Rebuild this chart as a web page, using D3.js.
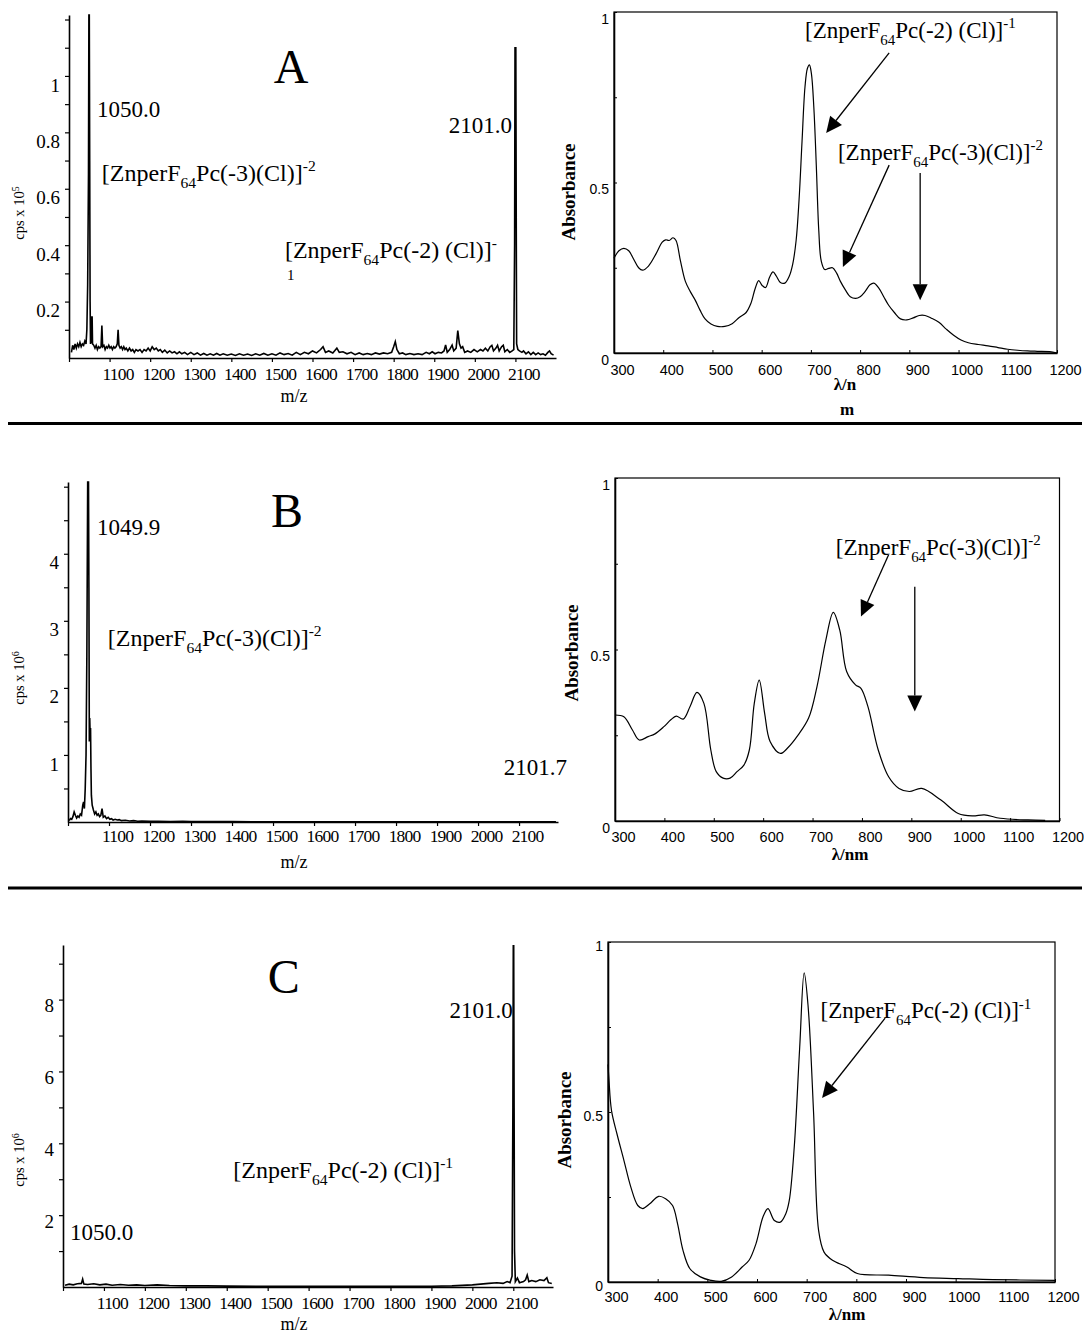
<!DOCTYPE html>
<html><head><meta charset="utf-8">
<script src="https://cdn.jsdelivr.net/npm/d3@7"></script>
<style>body{margin:0;background:#fff}svg{display:block}</style>
</head><body>
<script>
// ---------------- DATA ----------------
const msXTicks = [1000,1100,1200,1300,1400,1500,1600,1700,1800,1900,2000,2100];
const msXLabels = [1100,1200,1300,1400,1500,1600,1700,1800,1900,2000,2100];
const msAYTicks = [0.1,0.2,0.3,0.4,0.5,0.6,0.7,0.8,0.9,1,1.1,1.2];
const msAYLabels = [0.2,0.4,0.6,0.8,1];
const msBYTicks = [0.5,1,1.5,2,2.5,3,3.5,4,4.5,5];
const msBYLabels = [1,2,3,4];
const msCYTicks = [1,2,3,4,5,6,7,8,9];
const msCYLabels = [2,4,6,8];
const uvXTicks = [300,400,500,600,700,800,900,1000,1100,1200];
const uvYTicks = [0,0.25,0.5,0.75,1];
const uvYLabels = [0,0.5,1];

// mass spectrum A: [m/z, cps x 10^5]
const msA = [[1006,0.02],[1009,0.045],[1012,0.03],[1015,0.05],[1018,0.035],[1021,0.05],[1024,0.04],[1027,0.055],[1030,0.04],[1033,0.05],[1036,0.045],[1039,0.06],[1042,0.05],[1044,0.1],[1046,0.26],[1048,0.65],[1049,1.22],[1050,1.22],[1051,0.7],[1052,0.2],[1053,0.05],[1055,0.06],[1056,0.145],[1057,0.145],[1058,0.05],[1061,0.045],[1064,0.035],[1067,0.045],[1070,0.03],[1073,0.04],[1076,0.035],[1079,0.04],[1081,0.115],[1083,0.04],[1086,0.045],[1089,0.03],[1092,0.04],[1095,0.035],[1098,0.045],[1101,0.035],[1104,0.04],[1107,0.03],[1110,0.04],[1113,0.035],[1116,0.04],[1119,0.05],[1121,0.1],[1123,0.045],[1126,0.035],[1129,0.04],[1132,0.03],[1135,0.04],[1138,0.03],[1141,0.035],[1145,0.025],[1149,0.035],[1153,0.025],[1157,0.03],[1161,0.02],[1165,0.03],[1170,0.025],[1175,0.03],[1180,0.02],[1185,0.03],[1190,0.025],[1195,0.035],[1200,0.025],[1205,0.04],[1210,0.03],[1215,0.035],[1220,0.025],[1225,0.03],[1230,0.02],[1236,0.028],[1242,0.018],[1248,0.025],[1254,0.018],[1260,0.022],[1266,0.015],[1272,0.022],[1278,0.015],[1285,0.02],[1292,0.012],[1300,0.02],[1308,0.012],[1316,0.018],[1324,0.01],[1332,0.016],[1340,0.01],[1348,0.015],[1356,0.01],[1364,0.016],[1372,0.01],[1380,0.015],[1390,0.01],[1400,0.014],[1410,0.009],[1420,0.015],[1430,0.01],[1440,0.014],[1450,0.009],[1460,0.015],[1470,0.01],[1480,0.016],[1490,0.01],[1500,0.015],[1510,0.01],[1520,0.018],[1530,0.012],[1540,0.016],[1550,0.01],[1560,0.02],[1570,0.012],[1580,0.02],[1590,0.015],[1600,0.025],[1610,0.018],[1620,0.03],[1626,0.04],[1632,0.02],[1640,0.025],[1650,0.018],[1660,0.035],[1666,0.02],[1675,0.022],[1685,0.015],[1695,0.02],[1705,0.012],[1715,0.018],[1725,0.012],[1735,0.016],[1745,0.012],[1755,0.018],[1765,0.014],[1775,0.018],[1785,0.015],[1795,0.02],[1800,0.04],[1804,0.058],[1808,0.03],[1814,0.015],[1822,0.018],[1830,0.012],[1840,0.016],[1850,0.012],[1860,0.015],[1870,0.012],[1880,0.02],[1888,0.015],[1895,0.022],[1902,0.015],[1910,0.02],[1918,0.018],[1924,0.025],[1928,0.046],[1932,0.02],[1938,0.03],[1944,0.046],[1948,0.025],[1954,0.035],[1958,0.097],[1962,0.05],[1966,0.035],[1970,0.04],[1975,0.02],[1982,0.025],[1990,0.02],[1998,0.03],[2006,0.022],[2014,0.03],[2020,0.025],[2026,0.035],[2032,0.025],[2038,0.04],[2042,0.045],[2046,0.025],[2052,0.035],[2056,0.045],[2060,0.025],[2066,0.04],[2070,0.045],[2074,0.022],[2080,0.03],[2086,0.02],[2092,0.025],[2096,0.03],[2098,0.4],[2099,1.1],[2100,1.1],[2101,1.1],[2102,0.5],[2103,0.05],[2106,0.03],[2110,0.025],[2116,0.02],[2120,0.025],[2126,0.015],[2132,0.022],[2138,0.012],[2144,0.02],[2150,0.012],[2156,0.018],[2162,0.012],[2168,0.015],[2174,0.01],[2180,0.02],[2184,0.025],[2188,0.015],[2194,0.01]];

// mass spectrum B: [m/z, cps x 10^6]
const msB = [[1003,0.02],[1006,0.05],[1009,0.04],[1012,0.08],[1015,0.15],[1018,0.1],[1021,0.06],[1024,0.09],[1027,0.07],[1030,0.12],[1033,0.1],[1036,0.25],[1038,0.3],[1040,0.2],[1042,0.5],[1044,1.0],[1046,2.5],[1048,5.1],[1049,5.1],[1050,5.1],[1051,3.5],[1052,1.2],[1053,1.55],[1054,1.3],[1055,1.4],[1056,0.8],[1057,0.4],[1059,0.25],[1062,0.18],[1065,0.12],[1068,0.15],[1071,0.1],[1074,0.12],[1077,0.08],[1080,0.1],[1083,0.2],[1086,0.07],[1090,0.09],[1094,0.05],[1098,0.07],[1102,0.04],[1106,0.05],[1110,0.03],[1115,0.04],[1120,0.03],[1125,0.035],[1130,0.02],[1140,0.025],[1150,0.015],[1160,0.02],[1170,0.012],[1180,0.015],[1200,0.01],[1220,0.012],[1250,0.008],[1280,0.01],[1300,0.005],[1350,0.006],[1400,0.005],[1450,0.003],[1600,0.003],[1800,0.003],[2000,0.003],[2190,0.003]];

// mass spectrum C: [m/z, cps x 10^6]
const msC = [[1005,0.05],[1015,0.08],[1025,0.06],[1035,0.09],[1045,0.1],[1048,0.22],[1051,0.08],[1060,0.07],[1075,0.09],[1090,0.06],[1105,0.08],[1120,0.05],[1140,0.07],[1160,0.05],[1180,0.06],[1200,0.04],[1230,0.06],[1260,0.04],[1300,0.03],[1350,0.03],[1400,0.025],[1500,0.02],[1600,0.02],[1700,0.02],[1800,0.02],[1900,0.02],[1950,0.03],[2000,0.06],[2020,0.08],[2040,0.1],[2060,0.12],[2075,0.1],[2085,0.15],[2092,0.12],[2097,0.3],[2099,5.0],[2100,9.5],[2101,9.5],[2102,5.0],[2103,1.0],[2105,0.15],[2110,0.25],[2115,0.12],[2125,0.15],[2130,0.2],[2134,0.33],[2138,0.15],[2145,0.18],[2155,0.15],[2165,0.2],[2175,0.18],[2182,0.26],[2186,0.12],[2194,0.1]];

// UV-vis spectra: [nm, absorbance]
const uvA = [[300,0.278],[310,0.300],[320,0.307],[330,0.300],[340,0.275],[350,0.250],[358,0.243],[370,0.255],[385,0.29],[398,0.325],[405,0.332],[412,0.330],[420,0.338],[426,0.33],[435,0.27],[445,0.21],[455,0.18],[465,0.155],[475,0.125],[485,0.1],[497,0.085],[510,0.078],[525,0.078],[540,0.086],[555,0.105],[568,0.118],[578,0.145],[587,0.19],[594,0.212],[601,0.198],[608,0.192],[616,0.222],[623,0.238],[630,0.225],[638,0.207],[647,0.205],[656,0.225],[663,0.26],[670,0.33],[676,0.45],[682,0.62],[688,0.78],[693,0.835],[697,0.845],[701,0.82],[706,0.72],[711,0.55],[716,0.36],[721,0.27],[728,0.245],[736,0.248],[744,0.25],[752,0.235],[760,0.21],[770,0.185],[780,0.165],[791,0.16],[800,0.165],[810,0.18],[820,0.2],[828,0.205],[838,0.19],[848,0.165],[858,0.14],[870,0.118],[882,0.1],[895,0.097],[908,0.103],[920,0.11],[932,0.11],[945,0.102],[960,0.09],[975,0.07],[990,0.052],[1005,0.038],[1020,0.03],[1040,0.025],[1060,0.021],[1080,0.016],[1100,0.011],[1120,0.008],[1140,0.006],[1160,0.005],[1185,0.004],[1200,0.0]];
const uvB = [[300,0.309],[318,0.304],[335,0.266],[349,0.236],[367,0.246],[381,0.254],[399,0.275],[413,0.295],[424,0.306],[438,0.297],[452,0.334],[466,0.375],[480,0.343],[494,0.207],[505,0.144],[519,0.125],[533,0.125],[547,0.144],[561,0.163],[572,0.207],[582,0.343],[592,0.411],[603,0.314],[614,0.232],[635,0.197],[649,0.212],[671,0.251],[692,0.300],[709,0.392],[727,0.528],[742,0.608],[755,0.557],[769,0.436],[787,0.397],[798,0.387],[812,0.334],[833,0.207],[854,0.129],[875,0.095],[896,0.086],[921,0.095],[960,0.061],[995,0.022],[1024,0.015],[1048,0.018],[1080,0.008],[1136,0.003],[1171,0.002]];
const uvC = [[300,0.64],[302,0.593],[307,0.505],[318,0.436],[332,0.358],[346,0.279],[360,0.225],[370,0.216],[384,0.230],[402,0.252],[416,0.245],[430,0.225],[440,0.172],[451,0.093],[465,0.039],[486,0.015],[507,0.005],[528,0.002],[549,0.015],[570,0.044],[584,0.064],[598,0.113],[612,0.191],[622,0.216],[635,0.181],[647,0.176],[658,0.201],[665,0.240],[675,0.397],[686,0.691],[695,0.909],[703,0.809],[714,0.495],[724,0.152],[735,0.088],[752,0.064],[781,0.044],[802,0.025],[865,0.020],[935,0.013],[1005,0.010],[1075,0.007],[1200,0.005]];

// ion labels: [text, level] (level -1 subscript, 1 superscript)
const ionMono = [["[ZnperF",0],["64",-1],["Pc(-2) (Cl)]",0],["-1",1]];
const ionDi = [["[ZnperF",0],["64",-1],["Pc(-3)(Cl)]",0],["-2",1]];
const ionMonoCut = [["[ZnperF",0],["64",-1],["Pc(-2) (Cl)]",0],["-",1]];

// ---------------- DRAWING ----------------
const SERIF = "'Liberation Serif','Times New Roman',Times,serif";
const SANS = "'Liberation Sans',Arial,Helvetica,sans-serif";
const svg = d3.select('body').append('svg').attr('width',1084).attr('height',1336);
svg.append('rect').attr('width',1084).attr('height',1336).attr('fill','#fff');

function chem(g, x, y, parts, fs){
  const t = g.append('text').attr('x',x).attr('y',y).attr('font-size',fs).attr('font-family',SERIF).attr('fill','#000');
  let cur = 0;
  parts.forEach(([s,l])=>{
    const target = l===-1 ? fs*0.3 : (l===1 ? -fs*0.42 : 0);
    t.append('tspan').attr('dy', target-cur).attr('font-size', l ? fs*0.65 : fs).text(s);
    cur = target;
  });
}
function arrow(g,x1,y1,x2,y2,head,hw){
  const dx=x2-x1, dy=y2-y1, L=Math.hypot(dx,dy), ux=dx/L, uy=dy/L;
  const bx=x2-ux*head, by=y2-uy*head;
  g.append('line').attr('x1',x1).attr('y1',y1).attr('x2',bx).attr('y2',by).attr('stroke','#000').attr('stroke-width',1.3);
  g.append('path').attr('d',`M${x2},${y2}L${bx-uy*hw},${by+ux*hw}L${bx+uy*hw},${by-ux*hw}Z`).attr('fill','#000');
}
function notes(g,x,y,list){
  list.forEach(n=>{
    if(n.kind==='chem') chem(g,x(n.at[0]),y(n.at[1]),n.parts,n.size);
    else if(n.kind==='arrow') arrow(g,x(n.from[0]),y(n.from[1]),x(n.to[0]),y(n.to[1]),16,7.5);
    else g.append('text').attr('x',x(n.at[0])).attr('y',y(n.at[1])).attr('font-family',SERIF)
        .attr('font-size',n.size).attr('text-anchor',n.anchor||'start').attr('fill','#000').text(n.text);
  });
}

function drawMS(c){
  const x = d3.scaleLinear().domain(c.xDomain).range(c.xRange);
  const y = d3.scaleLinear().domain(c.yDomain).range(c.yRange);
  const g = svg.append('g');
  const xa = g.append('g').attr('transform',`translate(0,${c.yRange[0]})`)
    .call(d3.axisBottom(x).tickValues(msXTicks).tickSizeInner(4).tickSizeOuter(0)
      .tickFormat(d=>msXLabels.includes(d)?String(d):''));
  xa.select('.domain').attr('stroke-width',1.6);
  xa.selectAll('.tick line').attr('stroke-width',1.2);
  xa.selectAll('text').attr('font-family',SERIF).attr('font-size',17.5).attr('letter-spacing',-0.8)
    .attr('dy',0).attr('y',c.xLabelY).attr('dx',8).attr('fill','#000');
  const ya = g.append('g').attr('transform',`translate(${c.xRange[0]},0)`)
    .call(d3.axisLeft(y).tickValues(c.yTicks).tickSizeInner(4).tickSizeOuter(0)
      .tickFormat(d=>c.yLabels.includes(d)?String(d):''));
  ya.select('.domain').attr('stroke-width',1.6);
  ya.selectAll('.tick line').attr('stroke-width',1.2);
  ya.selectAll('text').attr('font-family',SERIF).attr('font-size',19).attr('x',-9)
    .attr('transform',`translate(0,${c.yLabelShift})`).attr('fill','#000');
  g.append('path').datum(c.data).attr('fill','none').attr('stroke','#000').attr('stroke-width',1.6)
    .attr('d',d3.line().x(d=>x(d[0])).y(d=>y(Math.min(d[1],c.yDomain[1]))));
  const yt = g.append('text').attr('transform',`translate(${c.yTitle[0]},${c.yTitle[1]}) rotate(-90)`)
    .attr('text-anchor','middle').attr('font-family',SERIF).attr('font-size',14.5).attr('fill','#000');
  yt.append('tspan').text('cps x 10');
  yt.append('tspan').attr('dy',-5).attr('font-size',10).text(c.exp);
  g.append('text').attr('x',c.xTitle[0]).attr('y',c.xTitle[1]).attr('text-anchor','middle')
    .attr('font-family',SERIF).attr('font-size',18).attr('fill','#000').text('m/z');
  notes(g,x,y,c.notes);
}

function drawUV(c){
  const x = d3.scaleLinear().domain([300,1200]).range(c.xRange);
  const y = d3.scaleLinear().domain([0,1]).range(c.yRange);
  const g = svg.append('g');
  g.append('rect').attr('x',c.xRange[0]).attr('y',c.yRange[1]).attr('width',c.xRange[1]-c.xRange[0])
    .attr('height',c.yRange[0]-c.yRange[1]).attr('fill','none').attr('stroke','#000').attr('stroke-width',1.2);
  const xa = g.append('g').attr('transform',`translate(0,${c.yRange[0]})`)
    .call(d3.axisBottom(x).tickValues(uvXTicks).tickSizeInner(-3).tickSizeOuter(0).tickFormat(d=>String(d)));
  xa.select('.domain').attr('stroke-width',1.4);
  xa.selectAll('text').attr('font-family',SANS).attr('font-size',14.5).attr('dy',0).attr('y',c.xLabelY)
    .attr('dx',8).attr('fill','#000');
  const ya = g.append('g').attr('transform',`translate(${c.xRange[0]},0)`)
    .call(d3.axisLeft(y).tickValues(uvYTicks).tickSizeInner(-3).tickSizeOuter(0)
      .tickFormat(d=>uvYLabels.includes(d)?String(d):''));
  ya.select('.domain').attr('stroke-width',1.6);
  ya.selectAll('text').attr('font-family',SANS).attr('font-size',14).attr('x',-5)
    .attr('transform',`translate(0,${c.yLabelShift})`).attr('fill','#000');
  g.append('path').datum(c.data).attr('fill','none').attr('stroke','#000').attr('stroke-width',1.2)
    .attr('d',d3.line().curve(d3.curveCatmullRom.alpha(0.5)).x(d=>x(d[0])).y(d=>y(d[1])));
  g.append('text').attr('transform',`translate(${c.yTitle[0]},${c.yTitle[1]}) rotate(-90)`)
    .attr('text-anchor','middle').attr('font-family',SERIF).attr('font-weight','bold').attr('font-size',19)
    .attr('fill','#000').text('Absorbance');
  c.xTitle.forEach(t=>g.append('text').attr('x',t[0]).attr('y',t[1]).attr('text-anchor','middle')
    .attr('font-family',SERIF).attr('font-weight','bold').attr('font-size',17).attr('fill','#000').text(t[2]));
  notes(g,x,y,c.notes);
}

drawMS({data:msA, xDomain:[1000,2200], xRange:[69,556], yDomain:[0,1.216], yRange:[358,15],
  yTicks:msAYTicks, yLabels:msAYLabels, yLabelShift:9, xLabelY:22, exp:'5', yTitle:[24,213], xTitle:[294,402],
  notes:[{kind:'text',text:'A',at:[1547,0.975],size:48,anchor:'middle'},
    {kind:'text',text:'1050.0',at:[1069,0.855],size:23},
    {kind:'chem',parts:ionDi,at:[1081,0.628],size:24},
    {kind:'text',text:'2101.0',at:[1936,0.798],size:23},
    {kind:'chem',parts:ionMonoCut,at:[1532,0.355],size:24},
    {kind:'text',text:'1',at:[1537,0.275],size:15}]});
drawMS({data:msB, xDomain:[1000,2195], xRange:[68,558], yDomain:[0,5.07], yRange:[822,482],
  yTicks:msBYTicks, yLabels:msBYLabels, yLabelShift:9, xLabelY:20, exp:'6', yTitle:[24,678], xTitle:[294,868],
  notes:[{kind:'text',text:'B',at:[1534,4.40],size:48,anchor:'middle'},
    {kind:'text',text:'1049.9',at:[1071,4.28],size:23},
    {kind:'chem',parts:ionDi,at:[1097,2.62],size:24},
    {kind:'text',text:'2101.7',at:[2063,0.70],size:23}]});
drawMS({data:msC, xDomain:[1000,2197], xRange:[63,553], yDomain:[0,9.52], yRange:[1287,945],
  yTicks:msCYTicks, yLabels:msCYLabels, yLabelShift:6, xLabelY:22, exp:'6', yTitle:[24,1160], xTitle:[294,1330],
  notes:[{kind:'text',text:'C',at:[1539,8.19],size:48,anchor:'middle'},
    {kind:'text',text:'2101.0',at:[1944,7.49],size:23},
    {kind:'chem',parts:ionMono,at:[1416,3.04],size:24},
    {kind:'text',text:'1050.0',at:[1017,1.31],size:23}]});

drawUV({data:uvA, xRange:[614,1057], yRange:[353,12], xLabelY:22, yLabelShift:7, yTitle:[575,192],
  xTitle:[[845,390,'λ/n'],[847,415,'m']],
  notes:[{kind:'chem',parts:ionMono,at:[688,0.924],size:23},
    {kind:'arrow',from:[859,0.88],to:[731,0.645]},
    {kind:'chem',parts:ionDi,at:[755,0.566],size:23},
    {kind:'arrow',from:[859,0.551],to:[765,0.252]},
    {kind:'arrow',from:[922,0.528],to:[922,0.155]}]});
drawUV({data:uvB, xRange:[615,1059.5], yRange:[821,478], xLabelY:21, yLabelShift:7, yTitle:[578,653],
  xTitle:[[850,860,'λ/nm']],
  notes:[{kind:'chem',parts:ionDi,at:[747,0.776],size:23},
    {kind:'arrow',from:[854,0.776],to:[798,0.596]},
    {kind:'arrow',from:[907,0.683],to:[907,0.319]}]});
drawUV({data:uvC, xRange:[608,1055], yRange:[1282,942], xLabelY:20, yLabelShift:4, yTitle:[571,1120],
  xTitle:[[847,1320,'λ/nm']],
  notes:[{kind:'chem',parts:ionMono,at:[728,0.776],size:23},
    {kind:'arrow',from:[858,0.776],to:[731,0.541]}]});

// separators between rows
svg.append('line').attr('x1',8).attr('x2',1082).attr('y1',423.5).attr('y2',423.5).attr('stroke','#000').attr('stroke-width',3);
svg.append('line').attr('x1',8).attr('x2',1082).attr('y1',888).attr('y2',888).attr('stroke','#000').attr('stroke-width',3);
</script>
</body></html>
